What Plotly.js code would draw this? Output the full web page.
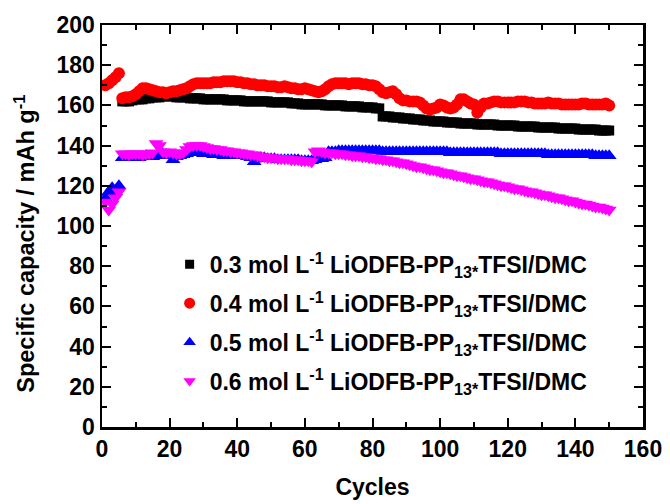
<!DOCTYPE html>
<html>
<head>
<meta charset="utf-8">
<script src="https://cdn.plot.ly/plotly-3.0.1.min.js"></script>
<style>html,body{margin:0;padding:0;background:#fff;}#chart{width:670px;height:504px;}</style>
</head>
<body>
<div id="chart"></div>
<script>
// Cycle numbers
const cycles = [1,2,3,4,5,6,7,8,9,10,11,12,13,14,15,16,17,18,19,20,
21,22,23,24,25,26,27,28,29,30,31,32,33,34,35,36,37,38,39,40,
41,42,43,44,45,46,47,48,49,50,51,52,53,54,55,56,57,58,59,60,
61,62,63,64,65,66,67,68,69,70,71,72,73,74,75,76,77,78,79,80,
81,82,83,84,85,86,87,88,89,90,91,92,93,94,95,96,97,98,99,100,
101,102,103,104,105,106,107,108,109,110,111,112,113,114,115,116,117,118,119,120,
121,122,123,124,125,126,127,128,129,130,131,132,133,134,135,136,137,138,139,140,
141,142,143,144,145,146,147,148,149,150];

const seriesNames = [
  "0.3 mol L<sup>-1</sup> LiODFB-PP<sub>13*</sub>TFSI/DMC",
  "0.4 mol L<sup>-1</sup> LiODFB-PP<sub>13*</sub>TFSI/DMC",
  "0.5 mol L<sup>-1</sup> LiODFB-PP<sub>13*</sub>TFSI/DMC",
  "0.6 mol L<sup>-1</sup> LiODFB-PP<sub>13*</sub>TFSI/DMC"
];

const xTitle = 'Cycles';
const yTitle = 'Specific capacity / mAh g<sup>-1</sup>';

// 0.3 mol/L: cycles 6..150
const cap03 = [162,162,162,162.5,163,
163,163,163.5,163.5,164,164,164,164.5,164.5,164.5,
164.5,164,164,164,164,163.5,163.5,163.5,163.5,163,
163,163,163,163,163,163,162.5,162.5,162.5,162.5,
162.5,162,162,162,162,162,162,162,162,161.5,
161.5,161.5,161.5,161.5,161.5,161,161,161,160.5,160.5,
160.5,160.5,160.5,160.5,160.5,160,160,160,160,160,
160,159.5,159.5,159.5,159.5,159.5,159,159,159,159,
158.5,158.5,154.5,154.5,154.5,154,154,154,153.5,153.5,
153.5,153,153,153,152.5,152.5,152.5,152,152,152,
152,151.5,151.5,151.5,151.5,151,151,151,151,151,
150.5,150.5,150.5,150.5,150.5,150.5,150,150,150,150,
150,150,149.5,149.5,149.5,149.5,149.5,149.5,149,149,
149,149,149,149,148.5,148.5,148.5,148.5,148.5,148.5,
148,148,148,148,148,148,147.5,147.5,147.5,147.5];

// 0.4 mol/L: cycles 1..150
const cap04 = [170,171,172.5,174,176,163.5,164,164,164.5,165.5,
167,168.5,168.5,168,167.5,167,166.5,166.5,166,166.5,
167,167,167.5,168,168.5,169.5,170.5,171,171,171,
171,171,171.5,171.5,171.5,172,172,172,172,171.5,
171.5,171,171,170.5,170.5,170,170,170,169.5,169.5,
169.5,169,169,169.5,169,168.5,168.5,168,168,168.5,
168,167.5,167,166.5,167,168,169.5,170.5,171,171,
171,171,170.5,171,171,171,170.5,170.5,170,170,
169.5,168,166.5,166,166.5,167,165.5,163.5,162.5,162.5,
162,162,162,161.5,160,158.5,158,158.5,159,160.5,
160,159,158.5,159,160.5,163,163,162,161,160.5,
156.5,159,161,161,161.5,162,162,161.5,161.5,161.5,
161.5,161.5,162,162,162,161.5,161.5,161,161,161,
161,161.5,161,161,161,160.5,160.5,160.5,160.5,160.5,
160.5,161,161,160.5,160.5,160.5,160.5,160.5,161,160];

// 0.5 mol/L: cycles 1..150
const cap05 = [114,117,119,117,120,134,134.5,134,134.5,134.5,
134,134.5,135,134.5,134.5,135,135.5,136,135.5,135,
133,134.5,135,135.5,136,136.5,136.5,137,136.5,136,
136,136,135.5,135.5,135.5,135,135,135,135,135,
135,135,134.5,134,132,133.5,134,134,133.5,133.5,
133.5,133,133,133,133,133,133,133,132.5,132.5,
132.5,132.5,133,134.5,133.5,134,137,137,137,137.5,
137.5,137.5,137.5,137.5,137.5,137.5,137.5,137.5,137.5,137.5,
137.5,137.5,137,137,137,137,137,137,137,137,
137,137,137,137,137,137,137,137,137,137,
137,137,136.5,136.5,136.5,136.5,136.5,136.5,136.5,136.5,
136.5,136.5,136.5,136.5,136.5,136.5,136.5,136,136,136,
136,136,136,136,136,136,136,136,136,136,
136,135.5,135.5,135.5,135.5,135.5,135.5,135.5,135.5,135.5,
135.5,135.5,135.5,135.5,135.5,135,135,135,135,135];

// 0.6 mol/L: cycles 1..150
const cap06 = [112,108,111,114,117,136,136,135.5,136,136,
136,135.5,136,136,136.5,141,140,137,136.5,137,
136.5,136,136,136.5,138,139.5,140,140,140,139.5,
139,138.5,138.5,138,138,137.5,137.5,137,137,136.5,
136.5,136,136,135.5,135.5,135,134.5,134.5,134,134,
134,133.5,133.5,133.5,133.5,133,133,133,132.5,132.5,
132.5,132,137,137.5,137,136.5,136.5,136.5,136,136,
136,135.5,135.5,135,135,135,134.5,134.5,134,134,
133.5,133.5,133,133,132.5,132.5,132,131.5,131.5,131,
130.5,130,129.5,129.5,129,128.5,128,128,127.5,127,
126.5,126.5,126,125.5,125,125,124.5,124,123.5,123.5,
123,122.5,122,122,121.5,121,120.5,120,120,119.5,
119,118.5,118.5,118,117.5,117,117,116.5,116,115.5,
115.5,115,114.5,114,114,113.5,113,112.5,112.5,112,
111.5,111,111,110.5,110,109.5,109.5,109,108.5,108];

const xTickVals = [0,20,40,60,80,100,120,140,160];
const yTickVals = [0,20,40,60,80,100,120,140,160,180,200];

const symbols = ['square', 'circle', 'triangle-up', 'triangle-down'];
const colors = ['#000000', '#FF0000', '#0000FF', '#FF00FF'];
const plotSizes = [10, 12, 13, 13];
const legendSizes = [9, 11, 11, 11];
const groups = ['a', 'b', 'c', 'd'];
const xs = [cycles.slice(5), cycles, cycles, cycles];
const ys = [cap03, cap04, cap05, cap06];

const traces = [];
for (let i = 0; i < 4; i++) {
  traces.push({type: 'scatter', mode: 'markers', x: xs[i], y: ys[i], name: seriesNames[i],
    legendgroup: groups[i], showlegend: false,
    marker: {symbol: symbols[i], size: plotSizes[i], color: colors[i]}});
}
// legend-only entries (no data) so legend symbols can be drawn at the reference's size
for (let i = 0; i < 4; i++) {
  traces.push({type: 'scatter', mode: 'markers', x: [null], y: [null], name: seriesNames[i],
    legendgroup: groups[i], showlegend: true,
    marker: {symbol: symbols[i], size: legendSizes[i], color: colors[i]}});
}

const axisCommon = {
  showline: true, linewidth: 2.5, linecolor: '#000', mirror: 'ticks',
  ticks: 'inside', ticklen: 9, tickwidth: 2, tickcolor: '#000',
  showgrid: false, zeroline: false,
  tickfont: {size: 23, color: '#000'}
};

const layout = {
  width: 670, height: 504,
  margin: {l: 102, r: 27, t: 25, b: 77},
  paper_bgcolor: '#fff', plot_bgcolor: '#fff',
  font: {family: 'Liberation Sans, Arial, sans-serif', weight: 'bold', color: '#000', size: 22},
  showlegend: true,
  legend: {x: 0.125, y: 0.458, xanchor: 'left', yanchor: 'top', bgcolor: 'rgba(0,0,0,0)',
           font: {size: 23}, tracegroupgap: 6, itemsizing: 'trace'},
  xaxis: Object.assign({}, axisCommon, {
    range: [0, 160], tickvals: xTickVals,
    minor: {dtick: 10, ticks: 'inside', ticklen: 5, tickwidth: 2, tickcolor: '#000'},
    title: {text: xTitle, font: {size: 23}, standoff: 18}
  }),
  yaxis: Object.assign({}, axisCommon, {
    range: [0, 200], tickvals: yTickVals,
    minor: {dtick: 10, ticks: 'inside', ticklen: 5, tickwidth: 2, tickcolor: '#000'}
  }),
  annotations: [{
    text: yTitle, xref: 'paper', yref: 'paper', x: -0.143, y: 0.455,
    xanchor: 'center', yanchor: 'middle', textangle: -90, showarrow: false,
    font: {size: 23.5, color: '#000'}
  }]
};

Plotly.newPlot('chart', traces, layout, {displayModeBar: false, staticPlot: true});
</script>
</body>
</html>
